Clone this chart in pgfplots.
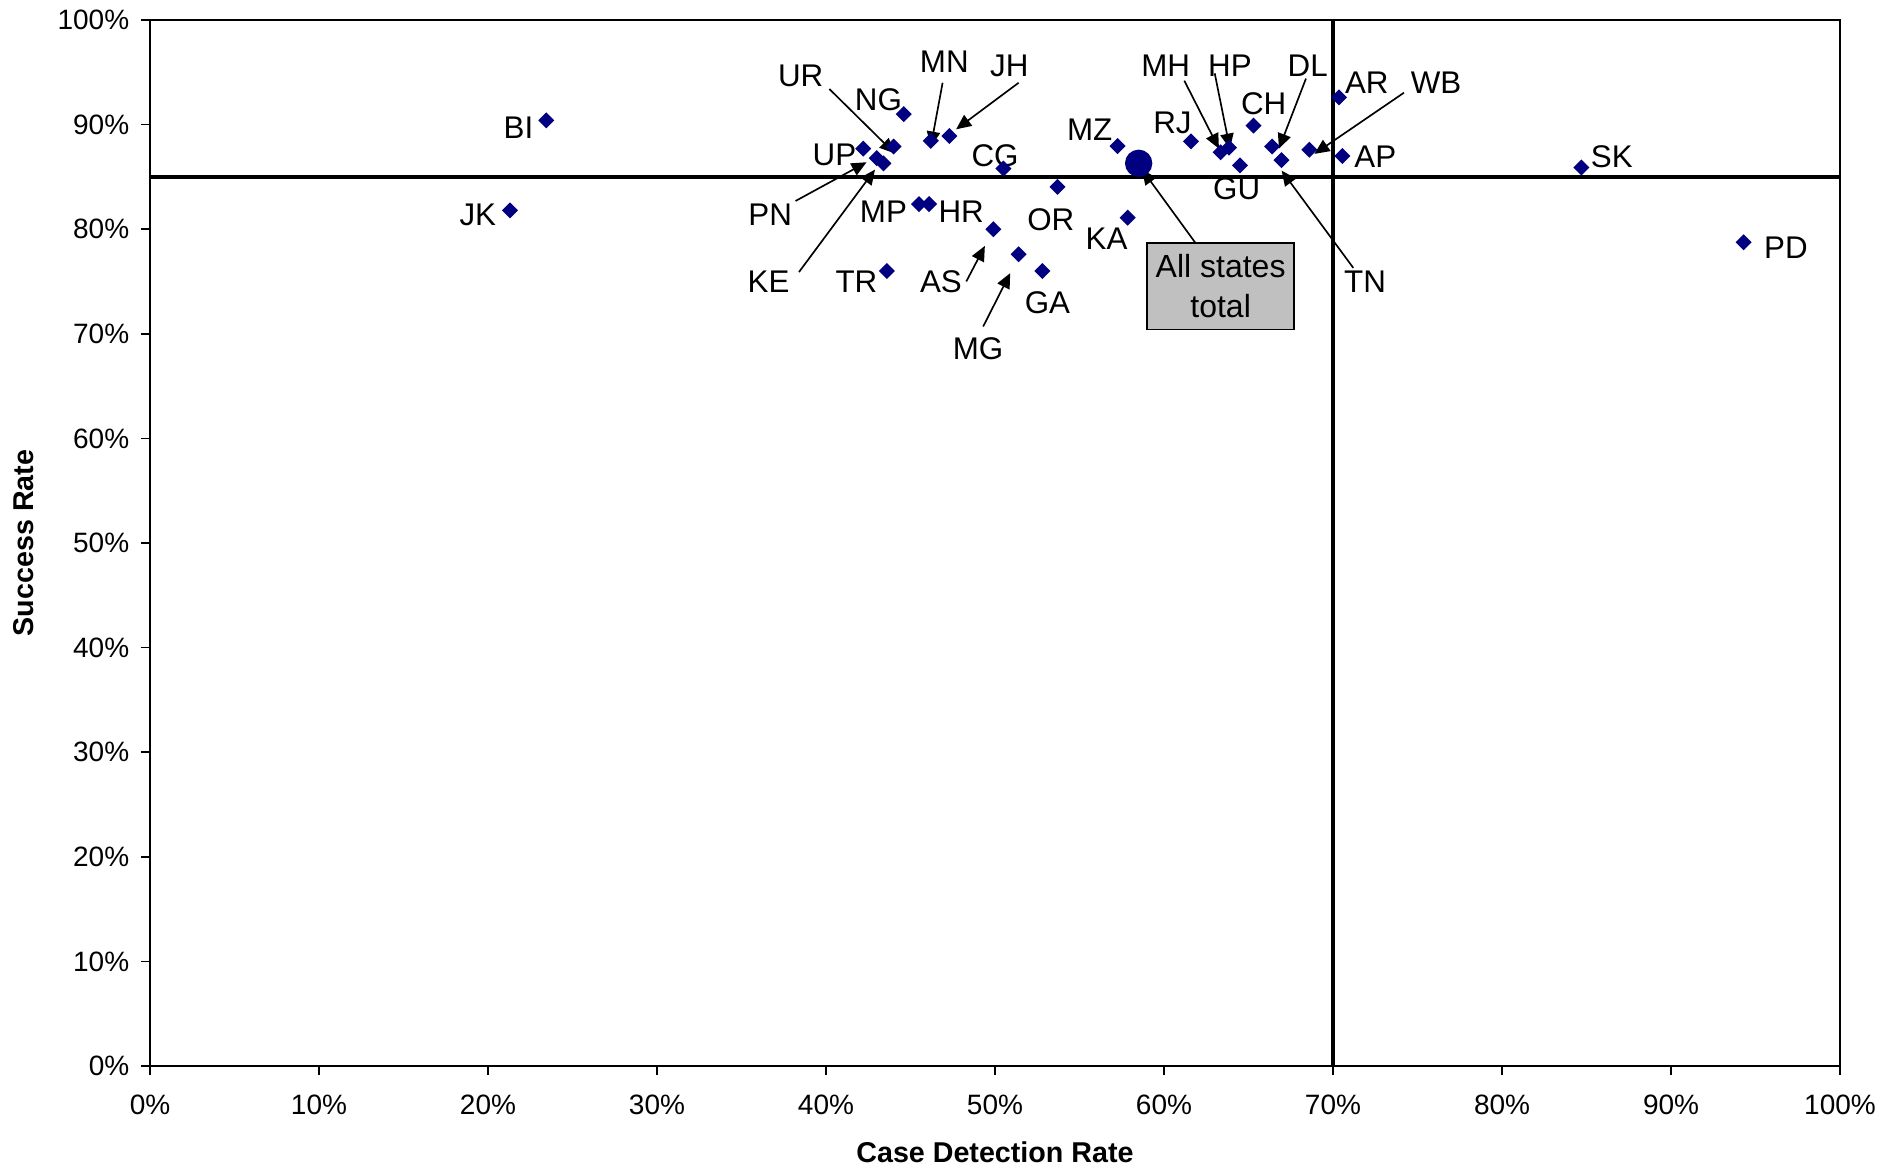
\documentclass[border=0pt]{standalone}
\usepackage{fontspec}
\setmainfont{Liberation Sans}
\usepackage{pgfplots}
\pgfplotsset{compat=1.18}
\usetikzlibrary{arrows.meta}
\definecolor{navy}{RGB}{0,0,128}
\definecolor{boxgray}{RGB}{192,192,192}

\begin{document}
\begin{tikzpicture}[
  lbl/.style={font=\fontsize{9.4}{11}\selectfont, inner sep=0pt},
  arr/.style={-{Triangle[length=4.5pt,width=4pt]}, line width=0.5pt}]
\begin{axis}[
  scale only axis, width=507pt, height=313.8pt,
  xmin=0, xmax=100, ymin=0, ymax=100,
  xtick={0,10,...,100}, ytick={0,10,...,100},
  xticklabel={\pgfmathprintnumber{\tick}\%},
  yticklabel={\pgfmathprintnumber{\tick}\%},
  /pgf/number format/assume math mode=true,
  tick pos=left, tick align=outside, major tick length=2.7pt,
  tick style={black, line width=0.5pt},
  axis line style={line width=0.5pt},
  ticklabel style={font=\fontsize{8.4}{10}\selectfont},
  xticklabel style={yshift=-2.5pt},
  xlabel={Case Detection Rate}, ylabel={Success Rate},
  label style={font=\fontsize{8.6}{10}\bfseries},
  xlabel style={at={(axis description cs:0.5,-0.0924)}, anchor=base},
  ylabel style={at={(axis description cs:-0.0745,0.5)}, anchor=center},
  clip=false,
]
% states: case detection rate (%), success rate (%)
\addplot[only marks, mark=square*, mark size=1.5pt, color=navy,
         mark options={rotate=45}] coordinates {
  (23.45,90.4) (21.3,81.8) (42.2,87.7) (44.0,87.9) (44.6,91.0)
  (43.0,86.8) (43.4,86.3) (46.2,88.45) (47.3,88.9) (50.5,85.8)
  (45.5,82.4) (46.1,82.4) (49.9,80.0) (43.6,76.0) (51.4,77.6)
  (52.8,76.0) (53.7,84.05) (57.25,87.95) (57.85,81.1) (61.6,88.4)
  (63.35,87.35) (63.85,87.8) (64.5,86.1) (65.3,89.9) (66.4,87.9)
  (66.95,86.6) (68.6,87.6) (70.35,92.6) (70.55,87.0) (84.7,85.9)
  (94.3,78.75)
};
% all states total
\addplot[only marks, mark=*, mark size=3.9pt, color=navy] coordinates {(58.5,86.3)};
% target lines
\addplot[black, line width=1.35pt] coordinates {(0,85) (100,85)};
\addplot[black, line width=1.35pt] coordinates {(70,0) (70,100)};

\node[lbl] at (axis cs:21.8,89.7) {BI};
\node[lbl] at (axis cs:19.4,81.4) {JK};
\node[lbl] at (axis cs:38.5,94.7) {UR};
\node[lbl] at (axis cs:43.1,92.35) {NG};
\node[lbl] at (axis cs:47.0,96.0) {MN};
\node[lbl] at (axis cs:50.85,95.6) {JH};
\node[lbl] at (axis cs:40.5,87.1) {UP};
\node[lbl] at (axis cs:50.0,87.0) {CG};
\node[lbl] at (axis cs:36.7,81.4) {PN};
\node[lbl] at (axis cs:36.6,75.0) {KE};
\node[lbl] at (axis cs:43.4,81.7) {MP};
\node[lbl] at (axis cs:48.0,81.7) {HR};
\node[lbl] at (axis cs:41.8,75.0) {TR};
\node[lbl] at (axis cs:46.8,75.0) {AS};
\node[lbl] at (axis cs:49.0,68.6) {MG};
\node[lbl] at (axis cs:53.1,73.0) {GA};
\node[lbl] at (axis cs:53.3,80.9) {OR};
\node[lbl] at (axis cs:55.6,89.5) {MZ};
\node[lbl] at (axis cs:56.6,79.1) {KA};
\node[lbl] at (axis cs:60.5,90.2) {RJ};
\node[lbl] at (axis cs:60.1,95.6) {MH};
\node[lbl] at (axis cs:63.9,95.6) {HP};
\node[lbl] at (axis cs:65.9,92.0) {CH};
\node[lbl] at (axis cs:68.5,95.6) {DL};
\node[lbl] at (axis cs:64.3,83.9) {GU};
\node[lbl] at (axis cs:72.0,94.0) {AR};
\node[lbl] at (axis cs:76.1,94.0) {WB};
\node[lbl] at (axis cs:72.5,86.9) {AP};
\node[lbl] at (axis cs:71.9,75.0) {TN};
\node[lbl] at (axis cs:86.5,86.9) {SK};
\node[lbl] at (axis cs:96.8,78.2) {PD};

\draw[arr] (axis cs:40.2,93.4) -- (axis cs:44.06,87.25);
\draw[arr] (axis cs:46.9,94.0) -- (axis cs:46.2,87.9);
\draw[arr] (axis cs:51.4,94.0) -- (axis cs:47.7,89.55);
\draw[arr] (axis cs:38.2,82.7) -- (axis cs:42.4,86.4);
\draw[arr] (axis cs:38.4,75.9) -- (axis cs:42.9,85.7);
\draw[arr] (axis cs:48.3,75.0) -- (axis cs:49.4,78.4);
\draw[arr] (axis cs:49.3,70.7) -- (axis cs:50.9,75.8);
\draw[arr] (axis cs:61.2,94.2) -- (axis cs:63.25,87.7);
\draw[arr] (axis cs:63.0,94.9) -- (axis cs:63.9,87.7);
\draw[arr] (axis cs:68.4,94.4) -- (axis cs:66.8,87.7);
\draw[arr] (axis cs:74.2,93.05) -- (axis cs:68.9,87.2);
\draw[arr] (axis cs:71.2,76.3) -- (axis cs:66.96,85.6);
\draw[arr] (axis cs:61.9,78.6) -- (axis cs:58.7,85.7);

\node[draw=black, fill=boxgray, line width=0.5pt, minimum width=44pt,
      minimum height=25.9pt, inner sep=1pt, align=center,
      font=\fontsize{9.6}{12}\selectfont]
  at (axis cs:63.35,74.55) {All states\\total};

\coordinate (bl) at (rel axis cs:0,0);
\coordinate (tr) at (rel axis cs:1,1);
\end{axis}
\pgfresetboundingbox
\path ([shift={(-45pt,-30.9pt)}]bl) rectangle ([shift={(17.1pt,6pt)}]tr);
\end{tikzpicture}
\end{document}
